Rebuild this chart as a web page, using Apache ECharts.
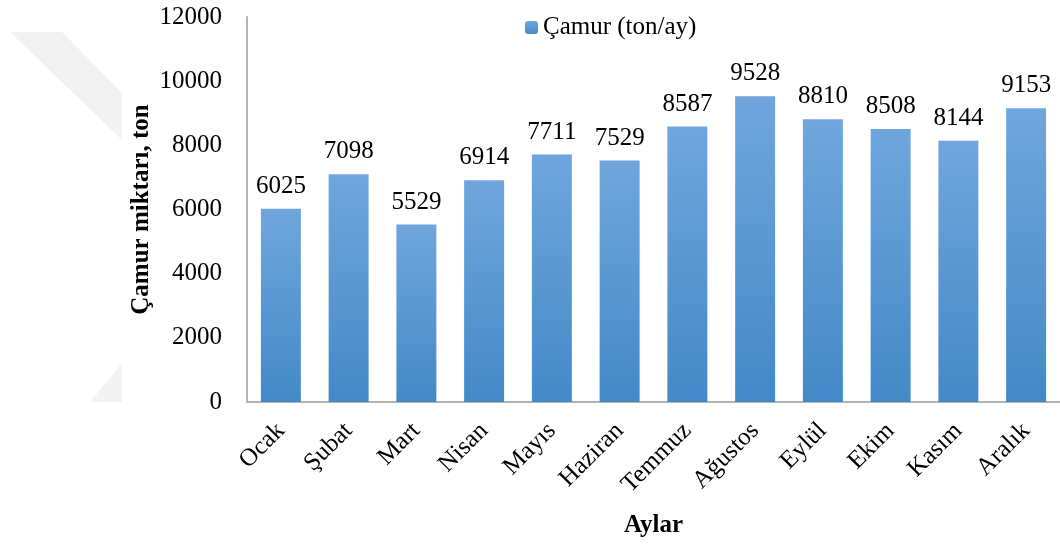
<!DOCTYPE html>
<html>
    <head>
        <meta charset="utf-8">
        <script src="https://cdn.jsdelivr.net/npm/echarts@6/dist/echarts.min.js"></script>
        <style>
            html, body { margin: 0; padding: 0; background: #fff; }
        </style>
    </head>
    <body>
        <div id="main" style="width: 1060px;height:546px;"></div>
        <script type="text/javascript">
            // aylar ve aylık çamur miktarı (ton)
            var aylar = ['Ocak', 'Şubat', 'Mart', 'Nisan', 'Mayıs', 'Haziran', 'Temmuz', 'Ağustos', 'Eylül', 'Ekim', 'Kasım', 'Aralık'];
            var camur = [6025, 7098, 5529, 6914, 7711, 7529, 8587, 9528, 8810, 8508, 8144, 9153];
            var yTicks = { min: 0, max: 12000, step: 2000 };

            var font = '"Liberation Serif", "Times New Roman", serif';
            var myChart = echarts.init(document.getElementById('main'));

            var option = {
                animation: false,
                backgroundColor: '#fff',
                textStyle: { fontFamily: font },
                // arka plandaki soluk filigran
                graphic: [
                    {
                        type: 'polygon',
                        silent: true,
                        z: -10,
                        shape: { points: [[10, 32], [62, 32], [122, 93], [122, 140]] },
                        style: { fill: '#f2f2f2' }
                    },
                    {
                        type: 'polygon',
                        silent: true,
                        z: -10,
                        shape: { points: [[90, 402], [122, 363], [122, 402]] },
                        style: { fill: '#f3f3f3' }
                    }
                ],
                legend: {
                    top: 10,
                    left: 520,
                    itemWidth: 13,
                    itemHeight: 13,
                    itemGap: 5,
                    textStyle: { fontFamily: font, fontSize: 25, color: '#000' },
                    data: ['Çamur (ton/ay)']
                },
                grid: {
                    left: 247,
                    right: 0,
                    top: 17,
                    bottom: 144,
                    outerBoundsMode: 'none'
                },
                xAxis: {
                    type: 'category',
                    data: aylar,
                    name: 'Aylar',
                    nameLocation: 'middle',
                    nameGap: 111,
                    nameMoveOverlap: false,
                    nameTextStyle: { fontFamily: font, fontSize: 25, fontWeight: 'bold', color: '#000' },
                    axisLine: { lineStyle: { color: '#b3b3b3', width: 2 } },
                    axisTick: { show: false },
                    axisLabel: {
                        rotate: 45,
                        margin: 25,
                        fontFamily: font,
                        fontSize: 25,
                        color: '#000'
                    }
                },
                yAxis: {
                    type: 'value',
                    min: yTicks.min,
                    max: yTicks.max,
                    interval: yTicks.step,
                    name: 'Çamur miktarı, ton',
                    nameLocation: 'middle',
                    nameGap: 93,
                    nameMoveOverlap: false,
                    nameTextStyle: { fontFamily: font, fontSize: 25, fontWeight: 'bold', color: '#000' },
                    axisLine: { show: true, lineStyle: { color: '#b3b3b3', width: 2 } },
                    axisTick: { show: false },
                    splitLine: { show: false },
                    axisLabel: {
                        margin: 25,
                        fontFamily: font,
                        fontSize: 25,
                        color: '#000',
                        formatter: function (v) { return String(v); }
                    }
                },
                series: [
                    {
                        name: 'Çamur (ton/ay)',
                        type: 'bar',
                        data: camur,
                        barCategoryGap: '41%',
                        itemStyle: {
                            color: new echarts.graphic.LinearGradient(0, 0, 0, 1, [
                                { offset: 0, color: '#70a6dd' },
                                { offset: 1, color: '#4389c8' }
                            ])
                        },
                        label: {
                            show: true,
                            position: 'top',
                            distance: 10,
                            fontFamily: font,
                            fontSize: 25,
                            color: '#000'
                        }
                    }
                ]
            };

            myChart.setOption(option);
        </script>
    </body>
</html>
